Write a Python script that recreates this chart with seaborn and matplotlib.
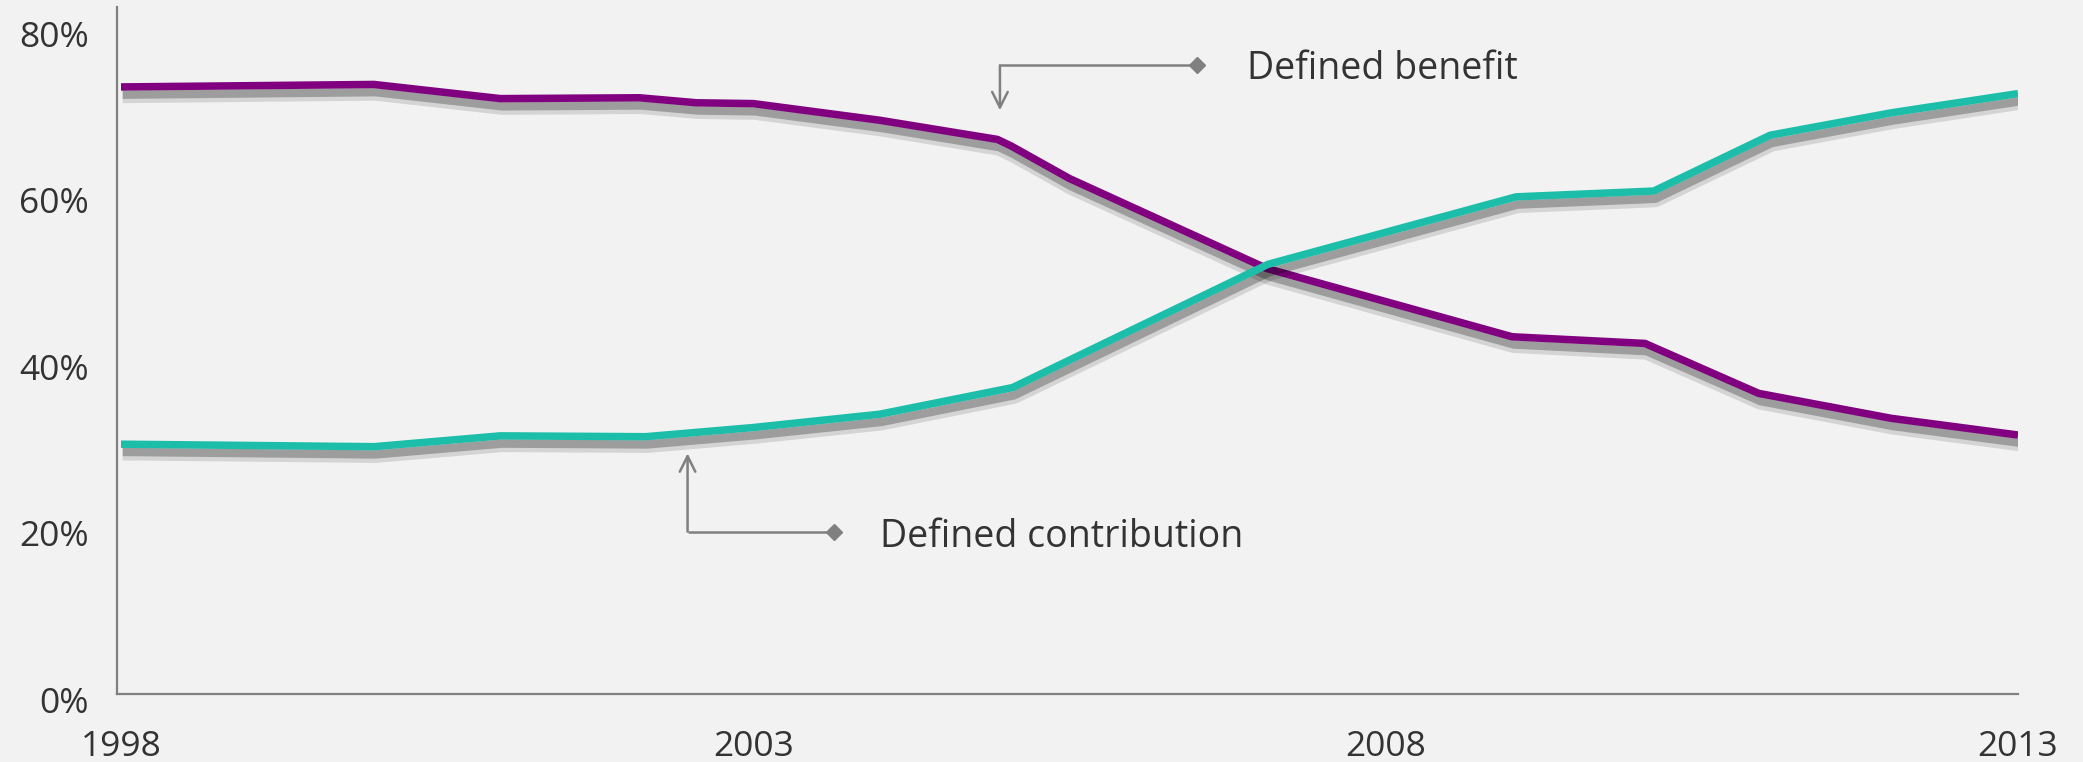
import matplotlib
matplotlib.use("Agg")
import matplotlib.pyplot as plt
import matplotlib.patheffects as pe
from matplotlib.transforms import ScaledTranslation
import seaborn as sns
import pandas as pd

# ---------------- data ----------------
series_names = ["Defined benefit", "Defined contribution"]

db_years = [1998, 2000, 2001, 2002.1, 2002.55, 2003, 2004, 2004.93, 2005.04,
            2005.5, 2007.06, 2009, 2010.05, 2010.95, 2012, 2013]
db_values = [72.9, 73.2, 71.5, 71.6, 71.0, 70.9, 68.9, 66.6, 65.8,
             61.9, 51.1, 42.9, 42.1, 36.1, 33.1, 31.1]

dc_years = [1998, 2000, 2001, 2002.15, 2003, 2004, 2005.05, 2007.07,
            2009.03, 2010.12, 2011.04, 2012, 2013]
dc_values = [30.0, 29.7, 31.0, 30.9, 32.0, 33.6, 36.8, 51.6,
             59.7, 60.4, 67.1, 69.8, 72.1]

x_ticks = [1998, 2003, 2008, 2013]
x_tick_labels = ["1998", "2003", "2008", "2013"]
y_ticks = [0, 20, 40, 60, 80]
y_tick_labels = ["0%", "20%", "40%", "60%", "80%"]

colors = {"Defined benefit": "#800080", "Defined contribution": "#1dbea9"}

# ---------------- style ----------------
sns.set_theme(style="white")
plt.rcParams['font.family'] = ['Open Sans', 'DejaVu Sans']
BG = "#f2f2f2"
GREY = "#808080"
TXT = "#333333"

W, H = 2083, 762
fig = plt.figure(figsize=(W / 100, H / 100), dpi=100, facecolor=BG)
ax = fig.add_axes([117 / W, 68 / H, (2018 - 117) / W, 687 / H])
ax.set_facecolor(BG)

df = pd.DataFrame({
    "year": db_years + dc_years,
    "share": db_values + dc_values,
    "series": [series_names[0]] * len(db_years) + [series_names[1]] * len(dc_years),
})

sns.lineplot(data=df, x="year", y="share", hue="series", hue_order=series_names,
             palette=colors, linewidth=5.4, legend=False, sort=False,
             estimator=None, ax=ax)

shadow = [
    pe.SimpleLineShadow(offset=(1.2, -6.2), shadow_color="black", alpha=0.12, linewidth=11),
    pe.SimpleLineShadow(offset=(1.2, -5.6), shadow_color="black", alpha=0.26, linewidth=6),
    pe.Normal(),
]
for ln in ax.lines:
    ln.set_solid_capstyle("butt")
    ln.set_solid_joinstyle("round")
    ln.set_path_effects(shadow)

ax.set_xlim(1998 - 4 / 126.7, 2013)
ax.set_ylim(0, 82.5)
ax.set_xticks(x_ticks)
ax.set_xticklabels(x_tick_labels)
ax.set_yticks(y_ticks)
ax.set_yticklabels(y_tick_labels)
ax.set_xlabel("")
ax.set_ylabel("")
ax.tick_params(axis="both", length=0, labelsize=25.5, labelcolor=TXT)
ax.tick_params(axis="x", pad=26)
ax.tick_params(axis="y", pad=20)
off = ScaledTranslation(0, -0.06, fig.dpi_scale_trans)
for lab in ax.get_yticklabels():
    lab.set_transform(lab.get_transform() + off)

for s in ["top", "right"]:
    ax.spines[s].set_visible(False)
for s in ["left", "bottom"]:
    ax.spines[s].set_color(GREY)
    ax.spines[s].set_linewidth(1.6)

# ---------------- annotations ----------------
def callout(x_arrow, y_tip, y_line, x_diamond, x_text, y_text, label):
    ax.annotate("", xy=(x_arrow, y_tip), xytext=(x_arrow, y_line),
                arrowprops=dict(arrowstyle="->", color=GREY, lw=1.8,
                                shrinkA=0, shrinkB=0, mutation_scale=28))
    ax.plot([x_arrow, x_diamond], [y_line, y_line], color=GREY, lw=1.8,
            solid_capstyle="butt")
    ax.plot([x_diamond], [y_line], marker="D", ms=8, color=GREY, mec=GREY)
    ax.text(x_text, y_text, label, fontsize=27, color=TXT, va="center", ha="left")

callout(2004.95, 70.1, 75.5, 2006.51, 2006.9, 75.0, series_names[0])
callout(2002.48, 28.9, 19.5, 2003.64, 2004.0, 18.8, series_names[1])

fig.savefig("out.png", dpi=100, facecolor=BG)
